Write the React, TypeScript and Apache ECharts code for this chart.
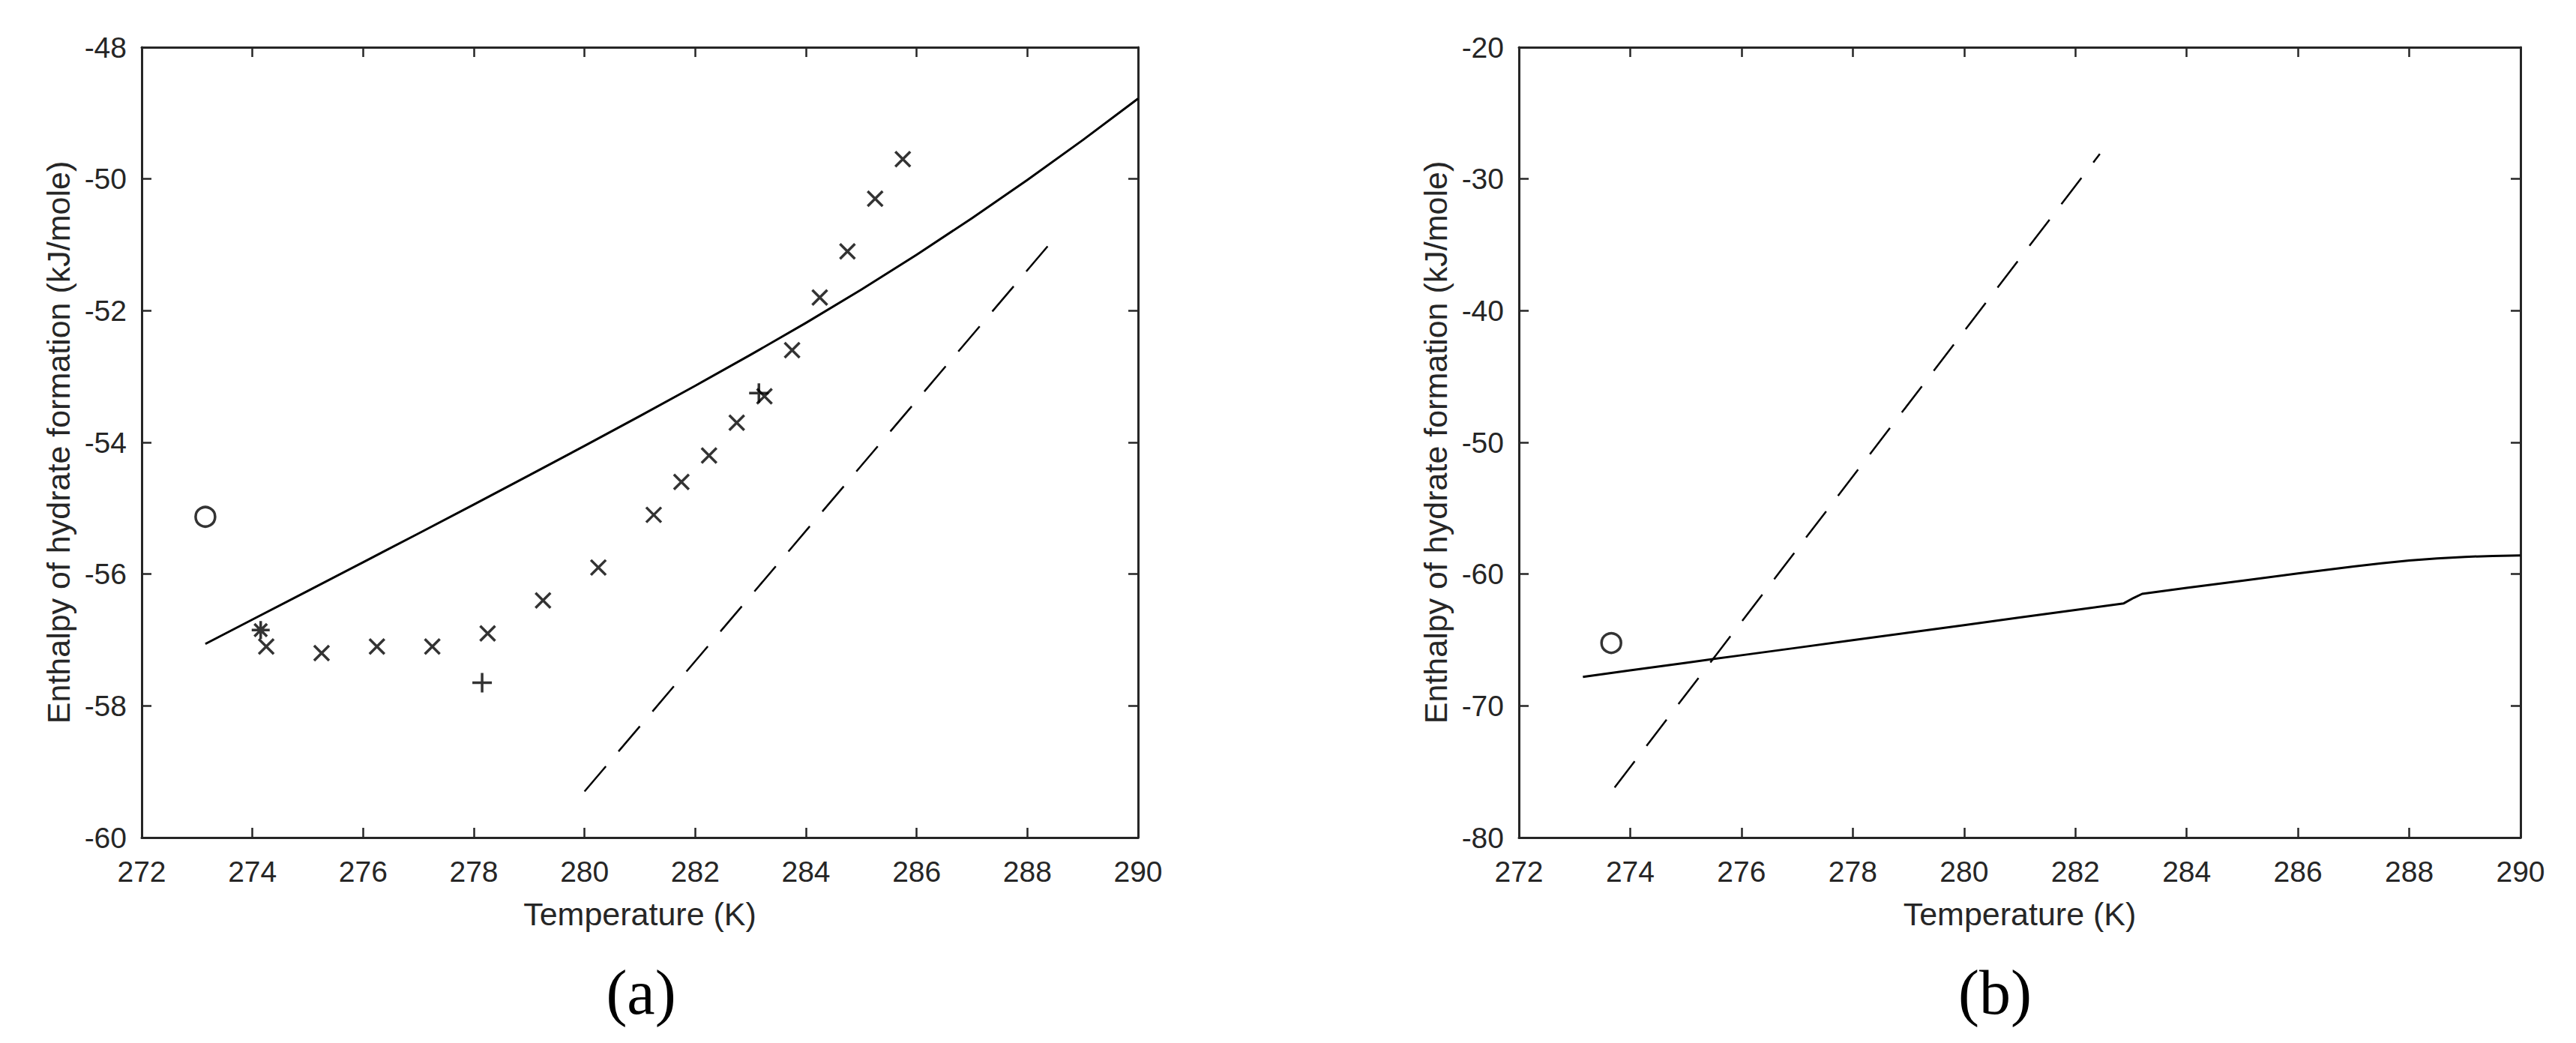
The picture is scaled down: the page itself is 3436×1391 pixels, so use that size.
import React, { useEffect, useRef } from "react";
import * as echarts from "echarts";

// ---------- data ----------
const X_MIN = 272;
const X_MAX = 290;
const X_STEP = 2;
const YA_MIN = -60;
const YA_MAX = -48;
const YA_STEP = 2;
const YB_MIN = -80;
const YB_MAX = -20;
const YB_STEP = 10;

const X_NAME = "Temperature (K)";
const Y_NAME = "Enthalpy of hydrate formation (kJ/mole)";
const PANEL_LABELS = ["(a)", "(b)"];

// panel (a)
const solidA_T = [273.15, 274, 275, 276, 277, 278, 279, 280, 281, 282, 283, 284, 285, 286, 287, 288, 289, 290];
const solidA_H = [-57.06, -56.69, -56.255, -55.82, -55.383, -54.943, -54.5, -54.053, -53.6, -53.14, -52.67, -52.185, -51.68, -51.15, -50.595, -50.015, -49.41, -48.78];
const dashA_T = [280.0, 288.46];
const dashA_H = [-59.3, -50.93];
const crossA_T = [274.25, 275.25, 276.25, 277.25, 278.25, 279.25, 280.25, 281.25, 281.75, 282.25, 282.75, 283.25, 283.75, 284.25, 284.75, 285.25, 285.75];
const crossA_H = [-57.1, -57.2, -57.1, -57.1, -56.9, -56.4, -55.9, -55.1, -54.6, -54.2, -53.7, -53.3, -52.6, -51.8, -51.1, -50.3, -49.7];
const plusA_T = [278.15, 283.15];
const plusA_H = [-57.65, -53.25];
const starA_T = [274.15];
const starA_H = [-56.85];
const circleA_T = [273.15];
const circleA_H = [-55.13];

// panel (b)
const solidB_T = [273.15, 274, 275, 276, 277, 278, 279, 280, 281, 282, 282.87, 283.05, 283.2, 284, 285, 286, 287, 287.5, 288, 288.5, 289, 289.5, 290];
const solidB_H = [-67.8, -67.3, -66.73, -66.16, -65.59, -65.01, -64.44, -63.87, -63.29, -62.72, -62.22, -61.8, -61.5, -61.05, -60.5, -59.95, -59.42, -59.18, -58.97, -58.81, -58.69, -58.62, -58.58];
const dashB_T = [273.72, 282.44];
const dashB_H = [-76.2, -28.1];
const circleB_T = [273.66];
const circleB_H = [-65.23];

// ---------- styles ----------
const W = 3436;
const H = 1391;
const FONT = "Liberation Sans";
const AXIS_COLOR = "#262626";
const TICK_FONT = 39;
const NAME_FONT = 43;

const X_PATH = "path://M0,0L10,10M10,0L0,10";
const PLUS_PATH = "path://M5,0L5,10M0,5L10,5";
const STAR_PATH = "path://M5,0L5,10M0,5L10,5M1.5,1.5L8.5,8.5M8.5,1.5L1.5,8.5";

const zip = (a: number[], b: number[]) => a.map((v, i) => [v, b[i]]);

function xAxisMain(gridIndex: number) {
  return {
    type: "value",
    gridIndex,
    position: "bottom",
    min: X_MIN,
    max: X_MAX,
    interval: X_STEP,
    name: X_NAME,
    nameLocation: "middle",
    nameGap: 80,
    nameTextStyle: { fontSize: NAME_FONT, color: AXIS_COLOR, fontFamily: FONT },
    axisLine: { show: true, onZero: false, lineStyle: { color: AXIS_COLOR, width: 3 } },
    axisTick: { show: true, inside: true, length: 13, lineStyle: { color: AXIS_COLOR, width: 2.5 } },
    axisLabel: { show: true, margin: 26, fontSize: TICK_FONT, color: AXIS_COLOR, fontFamily: FONT, showMinLabel: true, showMaxLabel: true },
    splitLine: { show: false },
  };
}
function xAxisTop(gridIndex: number) {
  return {
    type: "value",
    gridIndex,
    position: "top",
    min: X_MIN,
    max: X_MAX,
    interval: X_STEP,
    axisLine: { show: true, onZero: false, lineStyle: { color: AXIS_COLOR, width: 3 } },
    axisTick: { show: true, inside: true, length: 13, lineStyle: { color: AXIS_COLOR, width: 2.5 } },
    axisLabel: { show: false },
    splitLine: { show: false },
  };
}
function yAxisMain(gridIndex: number, min: number, max: number, step: number) {
  return {
    type: "value",
    gridIndex,
    position: "left",
    min,
    max,
    interval: step,
    name: Y_NAME,
    nameLocation: "middle",
    nameRotate: 90,
    nameGap: 90,
    nameTextStyle: { fontSize: NAME_FONT, color: AXIS_COLOR, fontFamily: FONT },
    axisLine: { show: true, onZero: false, lineStyle: { color: AXIS_COLOR, width: 3 } },
    axisTick: { show: true, inside: true, length: 13, lineStyle: { color: AXIS_COLOR, width: 2.5 } },
    axisLabel: { show: true, margin: 20, fontSize: TICK_FONT, color: AXIS_COLOR, fontFamily: FONT, showMinLabel: true, showMaxLabel: true },
    splitLine: { show: false },
  };
}
function yAxisRight(gridIndex: number, min: number, max: number, step: number) {
  return {
    type: "value",
    gridIndex,
    position: "right",
    min,
    max,
    interval: step,
    axisLine: { show: true, onZero: false, lineStyle: { color: AXIS_COLOR, width: 3 } },
    axisTick: { show: true, inside: true, length: 13, lineStyle: { color: AXIS_COLOR, width: 2.5 } },
    axisLabel: { show: false },
    splitLine: { show: false },
  };
}

function lineSeries(axisIdx: number, T: number[], Hs: number[], dashed: boolean) {
  return {
    type: "line",
    xAxisIndex: axisIdx,
    yAxisIndex: axisIdx,
    data: zip(T, Hs),
    showSymbol: false,
    symbol: "none",
    smooth: false,
    lineStyle: { color: "#000", width: dashed ? 2.5 : 3, type: dashed ? [44, 26] : "solid", join: "round" },
    z: 3,
    silent: true,
  };
}
function markerSeries(axisIdx: number, T: number[], Hs: number[], symbol: string, size: number) {
  return {
    type: "scatter",
    xAxisIndex: axisIdx,
    yAxisIndex: axisIdx,
    data: zip(T, Hs),
    symbol,
    symbolSize: size,
    itemStyle: { color: "rgba(0,0,0,0)", borderColor: "#000", borderWidth: 3.5 },
    z: 5,
    silent: true,
  };
}

export default function App() {
  const ref = useRef<HTMLDivElement>(null);
  useEffect(() => {
    if (!ref.current) return;
    const chart = echarts.init(ref.current, null, { renderer: "svg" });
    const option = {
      animation: false,
      backgroundColor: "#ffffff",
      grid: [
        { left: 189, right: W - 1518, top: 63, bottom: H - 1117, containLabel: false },
        { left: 2026, right: W - 3362, top: 63, bottom: H - 1117, containLabel: false },
      ],
      xAxis: [xAxisMain(0), xAxisMain(1), xAxisTop(0), xAxisTop(1)],
      yAxis: [
        yAxisMain(0, YA_MIN, YA_MAX, YA_STEP),
        yAxisMain(1, YB_MIN, YB_MAX, YB_STEP),
        yAxisRight(0, YA_MIN, YA_MAX, YA_STEP),
        yAxisRight(1, YB_MIN, YB_MAX, YB_STEP),
      ],
      series: [
        lineSeries(0, solidA_T, solidA_H, false),
        lineSeries(0, dashA_T, dashA_H, true),
        markerSeries(0, crossA_T, crossA_H, X_PATH, 20),
        markerSeries(0, plusA_T, plusA_H, PLUS_PATH, 26),
        markerSeries(0, starA_T, starA_H, STAR_PATH, 24),
        markerSeries(0, circleA_T, circleA_H, "circle", 26),
        lineSeries(1, solidB_T, solidB_H, false),
        lineSeries(1, dashB_T, dashB_H, true),
        markerSeries(1, circleB_T, circleB_H, "circle", 26),
      ],
      graphic: [
        {
          type: "text",
          x: 855,
          y: 1323,
          style: { text: PANEL_LABELS[0], fontSize: 84, fontFamily: "Liberation Serif", fill: "#000", align: "center", verticalAlign: "middle", textAlign: "center", textVerticalAlign: "middle" },
        },
        {
          type: "text",
          x: 2661,
          y: 1323,
          style: { text: PANEL_LABELS[1], fontSize: 84, fontFamily: "Liberation Serif", fill: "#000", align: "center", verticalAlign: "middle", textAlign: "center", textVerticalAlign: "middle" },
        },
      ],
    };
    chart.setOption(option as any);
    return () => chart.dispose();
  }, []);
  return (
    <div
      ref={ref}
      style={{ position: "absolute", left: 0, top: 0, width: W, height: H, background: "#fff" }}
    />
  );
}
